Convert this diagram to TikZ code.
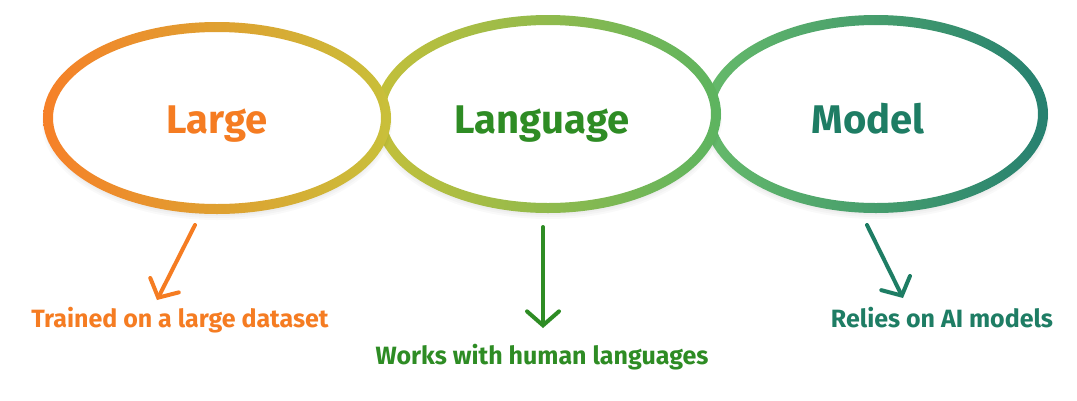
\documentclass[tikz,border=0pt]{standalone}
\usepackage{fontspec}
\setmainfont{Fira Sans}
\usetikzlibrary{arrows.meta}
\definecolor{largeorange}{RGB}{245,124,34}
\definecolor{langgreen}{RGB}{46,140,36}
\definecolor{modelteal}{RGB}{30,125,100}
\definecolor{ringorange}{RGB}{246,128,40}
\definecolor{ringyellow}{RGB}{200,192,58}
\definecolor{ringlime}{RGB}{196,192,58}
\definecolor{ringgreen}{RGB}{92,180,96}
\definecolor{ringmint}{RGB}{102,186,106}
\definecolor{ringteal}{RGB}{38,128,112}
\tikzset{
	title/.style={font=\bfseries\fontsize{40}{42}\selectfont, anchor=base},
	caption/.style={font=\bfseries\fontsize{25}{28}\selectfont, anchor=base},
	pointer/.style={line width=4pt, line cap=round,
		-{Straight Barb[length=14pt, width=32pt, line cap=round]}}
}
% soft shadow, white inside and a shaded ring
\newcommand{\ovalring}[5]{
	\foreach \s in {0,2,4,6}
		\fill[black, opacity=0.025] ([yshift=-5pt]#1) ellipse [x radius=#2+\s, y radius=#3+\s];
	\fill[white] (#1) ellipse [x radius=#2, y radius=#3];
	\shade[even odd rule, left color=#4, right color=#5]
		(#1) ellipse [x radius=#2+5, y radius=#3+5]
		(#1) ellipse [x radius=#2-5, y radius=#3-5];
}

\begin{document}
\begin{tikzpicture}[x=1pt, y=1pt]
	\fill[white] (0,0) rectangle (1077,-400);
	\useasboundingbox (0,0) rectangle (1077,-400);
	\coordinate (ringL) at (217,-118);
	\coordinate (ringG) at (548,-114);
	\coordinate (ringM) at (876,-114);
	% back to front
	\ovalring{ringM}{167}{94}{ringmint}{ringteal}
	\ovalring{ringG}{168}{94}{ringlime}{ringgreen}
	\ovalring{ringL}{169}{91}{ringorange}{ringyellow}

	\node[title, text=largeorange] (large) at (217,-133) {Large};
	\node[title, text=langgreen] (language) at (542,-133) {Language};
	\node[title, text=modelteal] (model) at (868,-133) {Model};

	\node[caption, text=largeorange] (trained) at (180,-327) {Trained on a large dataset};
	\node[caption, text=langgreen] (works) at (542,-364) {Works with human languages};
	\node[caption, text=modelteal] (relies) at (942,-327) {Relies on AI models};

	\coordinate (fromL) at (195,-225);
	\coordinate (toL) at (157,-300);
	\coordinate (fromG) at (543,-227);
	\coordinate (toG) at (543,-328);
	\coordinate (fromM) at (867,-225);
	\coordinate (toM) at (903,-298);
	\draw[pointer, largeorange] (fromL) -- (toL);
	\draw[pointer, langgreen] (fromG) -- (toG);
	\draw[pointer, modelteal] (fromM) -- (toM);
\end{tikzpicture}
\end{document}
